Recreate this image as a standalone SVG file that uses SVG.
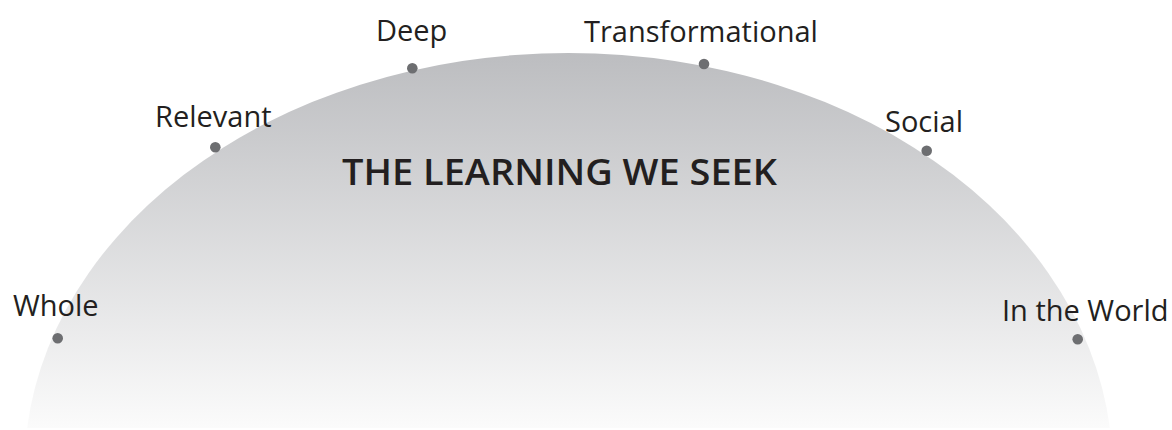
<svg xmlns="http://www.w3.org/2000/svg" width="1172" height="430" viewBox="0 0 1172 430">
  <style>
    .lbl { font-family: "Open Sans", "Noto Sans", sans-serif; font-size: 29px; fill: #231f20; }
    .title { font-family: "Open Sans", "Noto Sans", sans-serif; font-size: 36px; font-weight: 600; fill: #231f20; }
    .dot { fill: #6d6e71; }
  </style>
  <defs>
    <linearGradient id="domeGrad" x1="0" y1="53" x2="0" y2="428" gradientUnits="userSpaceOnUse">
      <stop offset="0" stop-color="#bcbdc0"/>
      <stop offset="1" stop-color="#fbfbfb"/>
    </linearGradient>
    <clipPath id="domeClip">
      <rect x="0" y="0" width="1172" height="428"/>
    </clipPath>
  </defs>
  <rect width="1172" height="430" fill="#ffffff"/>
  <g id="dome">
    <ellipse cx="568.5" cy="469" rx="544" ry="416" fill="url(#domeGrad)" clip-path="url(#domeClip)"/>
    <text class="title" x="342" y="185" textLength="435" lengthAdjust="spacingAndGlyphs">THE LEARNING WE SEEK</text>
  </g>
  <g id="connectors"></g>
  <g id="node-whole">
    <circle class="dot" cx="57.7" cy="338.3" r="5.3"/>
    <text class="lbl" x="13" y="316">Whole</text>
  </g>
  <g id="node-relevant">
    <circle class="dot" cx="215.3" cy="147.3" r="5.3"/>
    <text class="lbl" x="155" y="127">Relevant</text>
  </g>
  <g id="node-deep">
    <circle class="dot" cx="412.3" cy="68.3" r="5.3"/>
    <text class="lbl" x="376" y="41">Deep</text>
  </g>
  <g id="node-transformational">
    <circle class="dot" cx="704" cy="64" r="5.3"/>
    <text class="lbl" x="584" y="42">Transformational</text>
  </g>
  <g id="node-social">
    <circle class="dot" cx="926.7" cy="150.7" r="5.3"/>
    <text class="lbl" x="885" y="132">Social</text>
  </g>
  <g id="node-world">
    <circle class="dot" cx="1077.7" cy="339.3" r="5.3"/>
    <text class="lbl" x="1002" y="321">In the World</text>
  </g>
</svg>
